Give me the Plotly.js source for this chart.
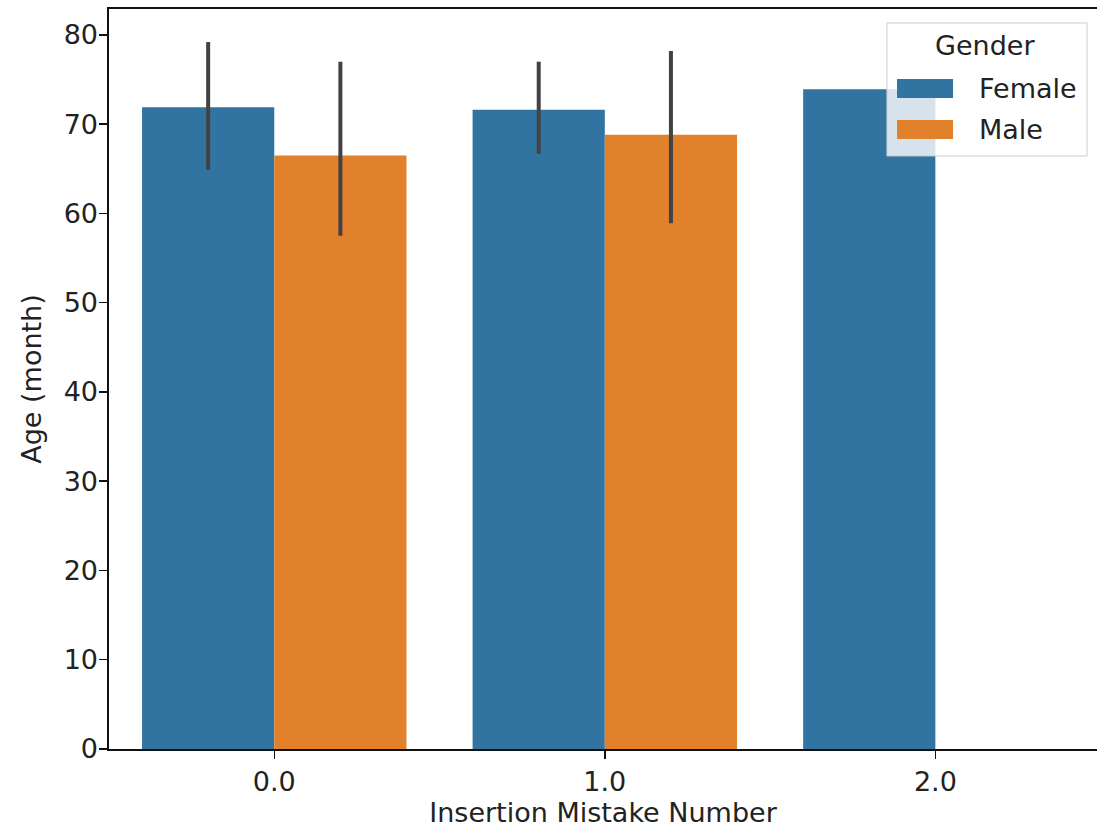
<!DOCTYPE html>
<html>
<head>
<meta charset="utf-8">
<script src="https://cdn.plot.ly/plotly-3.0.1.min.js"></script>
<style>
  html, body { margin: 0; padding: 0; background: #fff; }
  #chart { width: 1097px; height: 836px; }
</style>
</head>
<body>
<div id="chart"></div>
<script>
// Mean age per insertion-mistake count, split by gender, with CI bars
const categories = ["0.0", "1.0", "2.0"];

const femaleMean = [71.9, 71.6, 73.9];
const femaleCiLow = [64.9, 66.7, null];
const femaleCiHigh = [79.2, 77.0, null];

const maleCategories = ["0.0", "1.0"];
const maleMean = [66.5, 68.8];
const maleCiLow = [57.5, 58.9];
const maleCiHigh = [77.0, 78.2];

const legendTitle = "Gender";
const FONT = "DejaVu Sans, Liberation Sans, sans-serif";
const FS = 27;
const TEXT = "#222222";
const FEMALE_COLOR = "#3274a1";
const MALE_COLOR = "#e1812c";

function upper(mean, hi) { return mean.map((m, i) => hi[i] == null ? 0 : hi[i] - m); }
function lower(mean, lo) { return mean.map((m, i) => lo[i] == null ? 0 : m - lo[i]); }

const errStyle = { type: "data", symmetric: false, color: "#424242", thickness: 4, width: 0 };

const traces = [
  {
    type: "bar",
    name: "Female",
    x: categories,
    y: femaleMean,
    marker: { color: FEMALE_COLOR, line: { width: 0 } },
    error_y: Object.assign({}, errStyle, {
      array: upper(femaleMean, femaleCiHigh),
      arrayminus: lower(femaleMean, femaleCiLow)
    })
  },
  {
    type: "bar",
    name: "Male",
    x: maleCategories,
    y: maleMean,
    marker: { color: MALE_COLOR, line: { width: 0 } },
    error_y: Object.assign({}, errStyle, {
      array: upper(maleMean, maleCiHigh),
      arrayminus: lower(maleMean, maleCiLow)
    })
  }
];

// Boxed legend with wide colour patches, placed in the upper-right corner
const legendShapes = [
  { type: "rect", xref: "paper", yref: "paper", x0: 0.7874, x1: 0.9899, y0: 0.8014, y1: 0.9811,
    fillcolor: "rgba(255,255,255,0.8)", line: { color: "#cccccc", width: 1 }, layer: "above" },
  { type: "rect", xref: "paper", yref: "paper", x0: 0.7976, x1: 0.8543, y0: 0.8797, y1: 0.9054,
    fillcolor: FEMALE_COLOR, line: { width: 0 }, layer: "above" },
  { type: "rect", xref: "paper", yref: "paper", x0: 0.7976, x1: 0.8543, y0: 0.8243, y1: 0.8500,
    fillcolor: MALE_COLOR, line: { width: 0 }, layer: "above" }
];

const legendLabels = [
  { text: legendTitle, x: 0.8866, y: 0.951, xanchor: "center" },
  { text: traces[0].name, x: 0.8785, y: 0.8932, xanchor: "left" },
  { text: traces[1].name, x: 0.8785, y: 0.8378, xanchor: "left" }
].map(a => Object.assign({
  xref: "paper", yref: "paper", yanchor: "middle", showarrow: false,
  font: { family: FONT, size: FS, color: TEXT }
}, a));

const layout = {
  width: 1097,
  height: 836,
  margin: { l: 109, r: 0, t: 9, b: 87 },
  paper_bgcolor: "#ffffff",
  plot_bgcolor: "#ffffff",
  font: { family: FONT, size: FS, color: TEXT },
  barmode: "group",
  bargap: 0.2,
  bargroupgap: 0,
  showlegend: false,
  xaxis: {
    type: "category",
    categoryorder: "array",
    categoryarray: categories,
    range: [-0.5, 2.489],
    showline: true,
    linecolor: "#111111",
    linewidth: 1.6,
    mirror: true,
    ticks: "outside",
    ticklen: 8,
    tickwidth: 1.5,
    tickcolor: "#111111",
    showgrid: false,
    zeroline: false,
    tickfont: { family: FONT, size: FS, color: TEXT },
    title: { text: "Insertion Mistake Number", font: { family: FONT, size: FS, color: TEXT }, standoff: 4 }
  },
  yaxis: {
    range: [0, 82.9],
    tickvals: [0, 10, 20, 30, 40, 50, 60, 70, 80],
    showline: true,
    linecolor: "#111111",
    linewidth: 1.6,
    mirror: false,
    ticks: "outside",
    ticklen: 8,
    tickwidth: 1.5,
    tickcolor: "#111111",
    ticklabelstandoff: -4,
    showgrid: false,
    zeroline: false,
    tickfont: { family: FONT, size: FS, color: TEXT },
    title: { text: "Age (month)", font: { family: FONT, size: FS, color: TEXT }, standoff: 14 }
  },
  shapes: legendShapes,
  annotations: legendLabels
};

Plotly.newPlot("chart", traces, layout, { displayModeBar: false, staticPlot: true });
</script>
</body>
</html>
